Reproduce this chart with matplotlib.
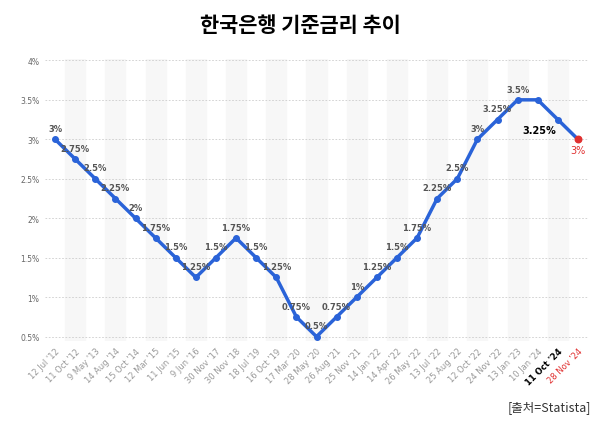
import matplotlib
matplotlib.use("Agg")
import matplotlib.pyplot as plt
from matplotlib import font_manager

dates = ["12 Jul '12","11 Oct '12","9 May '13","14 Aug '14","15 Oct '14","12 Mar '15","11 Jun '15",
         "9 Jun '16","30 Nov '17","30 Nov '18","18 Jul '19","16 Oct '19","17 Mar '20","28 May '20",
         "26 Aug '21","25 Nov '21","14 Jan '22","14 Apr '22","26 May '22","13 Jul '22","25 Aug '22",
         "12 Oct '22","24 Nov '22","13 Jan '23","10 Jan '24","11 Oct '24","28 Nov '24"]
rates = [3,2.75,2.5,2.25,2,1.75,1.5,1.25,1.5,1.75,1.5,1.25,0.75,0.5,0.75,1,1.25,1.5,1.75,2.25,2.5,3,3.25,3.5,3.5,3.25,3]
yticks = [0.5,1,1.5,2,2.5,3,3.5,4]

def fmt(v):
    return f"{v:g}%"

cjk = None
for f in font_manager.fontManager.ttflist:
    if "CJK" in f.name and ("KR" in f.name or cjk is None):
        cjk = f.name
        if "KR" in f.name:
            break
cjk_fams = [cjk] if cjk else []
cjk_fams += ["Noto Sans CJK KR", "Noto Sans CJK JP", "DejaVu Sans"]

fig = plt.figure(figsize=(6,4.27), dpi=100)
ax = fig.add_axes([0.075, 0.2, 0.905, 0.66])
n = len(rates)
x = list(range(n))
for i in range(1, n, 2):
    ax.axvspan(i-0.5, i+0.5, color="#f7f7f7", zorder=0)
for t in yticks:
    ax.axhline(t, color="#cccccc", lw=0.6, ls=(0,(2,2)), zorder=1)
ax.plot(x, rates, color="#2a63d8", lw=2.5, zorder=3)
ax.scatter(x[:-1], rates[:-1], s=16, color="#2a63d8", zorder=4)
ax.scatter([x[-1]], [rates[-1]], s=22, color="#e03030", zorder=4)
for i, v in enumerate(rates):
    if i == 24:
        continue
    if i == n-1:
        ax.text(i, v-0.07, fmt(v), ha="center", va="top", fontsize=7, color="#e03030")
    elif i == n-2:
        ax.text(i-0.1, v-0.07, fmt(v), ha="right", va="top", fontsize=7, color="black", fontweight="bold")
    else:
        ax.text(i, v+0.08, fmt(v), ha="center", va="bottom", fontsize=6, color="#555555", fontweight="bold")
ax.set_xlim(-0.5, n-0.5)
ax.set_ylim(0.45, 4.02)
ax.set_yticks(yticks)
ax.set_yticklabels([fmt(t) for t in yticks], fontsize=5.5, color="#666666")
ax.set_xticks(x)
ax.set_xticklabels(dates, rotation=45, ha="right", rotation_mode="anchor", fontsize=6, color="#999999")
lbls = ax.get_xticklabels()
lbls[-2].set_color("black"); lbls[-2].set_fontweight("bold")
lbls[-1].set_color("#e03030")
ax.tick_params(length=0, pad=4)
for s in ax.spines.values():
    s.set_visible(False)
fig.text(0.5, 0.94, "한국은행 기준금리 추이", ha="center", va="center", fontsize=15,
         fontweight="bold", family=cjk_fams)
fig.text(0.985, 0.03, "[출처=Statista]", ha="right", va="bottom", fontsize=9,
         family=cjk_fams, color="#333333")
fig.savefig("out.png", dpi=100)
